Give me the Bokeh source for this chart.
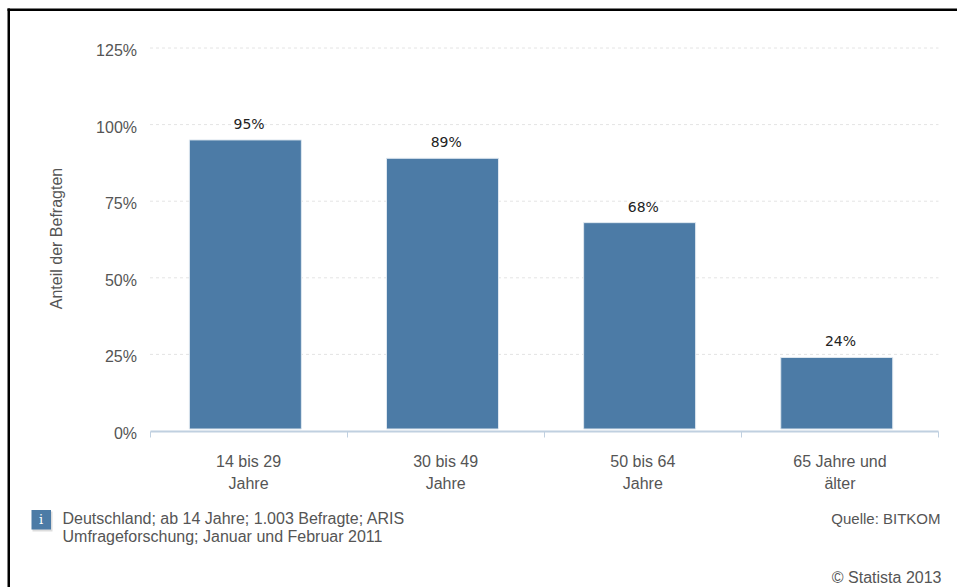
from bokeh.core.properties import value
from bokeh.embed import file_html
from bokeh.models import BoxAnnotation, FixedTicker, Label, LinearAxis, Range1d
from bokeh.plotting import figure
from bokeh.resources import INLINE

# Share of respondents per age group
age_groups = ["14 bis 29\nJahre", "30 bis 49\nJahre", "50 bis 64\nJahre", "65 Jahre und\nälter"]
shares = [95, 89, 68, 24]
y_ticks = [0, 25, 50, 75, 100, 125]
y_tick_labels = ["0%", "25%", "50%", "75%", "100%", "125%"]
info_lines = ["Deutschland; ab 14 Jahre; 1.003 Befragte; ARIS",
              "Umfrageforschung; Januar und Februar 2011"]

W, H = 957, 587
FONT = "Liberation Sans"
TEXT = "#555555"
BAR = "#4c7ba6"
AXIS = "#c0d0e0"

# The frame fills the page; the plotting area proper is set by these pixel margins
LEFT, RIGHT, BASE_Y = 149.5, 938.0, 430.5
PX_X = (RIGHT - LEFT) / len(age_groups)
PX_Y = (BASE_Y - 47.5) / 125

p = figure(width=W, height=H, output_backend="svg", toolbar_location=None,
           x_range=Range1d(-LEFT / PX_X, (W - LEFT) / PX_X),
           y_range=Range1d(-(H - BASE_Y) / PX_Y, BASE_Y / PX_Y),
           x_axis_location=None, y_axis_location=None,
           min_border=0, outline_line_color=None,
           background_fill_color="white", border_fill_color="white")
p.grid.visible = False

# Dashed value grid, limited to the plotting area
p.segment(x0=0, x1=len(age_groups), y0=y_ticks[1:], y1=y_ticks[1:],
          line_color="#e4e4e4", line_width=1, line_dash="3 3")

p.vbar(x=[i + 0.5 - 3.2 / PX_X for i in range(len(shares))], top=shares,
       bottom=2 / PX_Y, width=112 / PX_X,
       fill_color=BAR, line_color="#dfe8f0", line_width=1)

# Value axis; its labels sit slightly below their grid lines, hence the shifted range
label_shift = 2.5 / PX_Y
p.extra_y_ranges["tick_labels"] = Range1d(p.y_range.start + label_shift, p.y_range.end + label_shift)
yax = LinearAxis(y_range_name="tick_labels", fixed_location=0, bounds=(0, 127.3))
yax.ticker = FixedTicker(ticks=y_ticks)
yax.major_label_overrides = dict(zip(y_ticks, y_tick_labels))
yax.axis_line_color = None
yax.major_tick_line_color = None
yax.minor_tick_line_color = None
yax.major_label_standoff = 7
yax.major_label_text_font = FONT
yax.major_label_text_font_size = "16px"
yax.major_label_text_color = TEXT
yax.axis_label = "Anteil der Befragten"
yax.axis_label_text_font = FONT
yax.axis_label_text_font_size = "16px"
yax.axis_label_text_font_style = "normal"
yax.axis_label_text_color = TEXT
yax.axis_label_standoff = 29
p.add_layout(yax, "left")

xax = LinearAxis(fixed_location=0, bounds=(0, len(age_groups)))
xax.ticker = FixedTicker(ticks=list(range(len(age_groups) + 1)))
xax.major_label_text_color = None
xax.major_label_text_font_size = "1px"
xax.axis_line_color = AXIS
xax.axis_line_width = 2
xax.major_tick_line_color = AXIS
xax.major_tick_line_width = 1
xax.major_tick_in = 0
xax.major_tick_out = 6
xax.minor_tick_line_color = None
p.add_layout(xax, "below")

centers = [i + 0.5 for i in range(len(shares))]

# Value labels above the bars
p.text(x=centers, y=shares, x_offset=0.5, text=[f"{s}%" for s in shares], y_offset=-16,
       text_align="center", text_baseline="alphabetic", text_color="#222222",
       text_font=value("DejaVu Sans"), text_font_size="14px")

# Category labels under the axis, one row per line of text
for row, offset in enumerate([30.5, 52.5]):
    p.text(x=centers, y=[0] * len(centers), text=[g.split("\n")[row] for g in age_groups],
           y_offset=offset, text_align="center", text_baseline="alphabetic", text_color=TEXT,
           text_font=value(FONT), text_font_size="16px")


def caption(text, x, y_from_top, align="left", color=TEXT, size="16px", font=FONT):
    p.add_layout(Label(x=x, y=H - y_from_top, x_units="screen", y_units="screen", text=text,
                       text_align=align, text_baseline="alphabetic", text_color=color,
                       text_font=font, text_font_size=size))


def screen_box(left, right, top, bottom, color):
    p.add_layout(BoxAnnotation(left=left, right=right, top=H - top, bottom=H - bottom,
                               left_units="screen", right_units="screen",
                               top_units="screen", bottom_units="screen",
                               fill_color=color, fill_alpha=1, line_color=None))


# Notes under the chart
for j, line in enumerate(info_lines):
    caption(line, 62, 517.5 + 18.5 * j)
caption("Quelle: BITKOM", 940, 517.5, align="right", size="15px")
caption("© Statista 2013", 941, 576.5, align="right")

# Info badge with a faint shadow
screen_box(32, 52, 511, 531, "#dddddd")
screen_box(31, 50.5, 509.5, 529, BAR)
caption("i", 40.7, 518.5, align="center", color="white", size="13px", font="DejaVu Serif")

# Heavy black rule along the top and left edges
screen_box(7, W, 8, 10.5, "black")
screen_box(7, 9.5, 8, H, "black")

open("out.html", "w").write(file_html(p, INLINE))
